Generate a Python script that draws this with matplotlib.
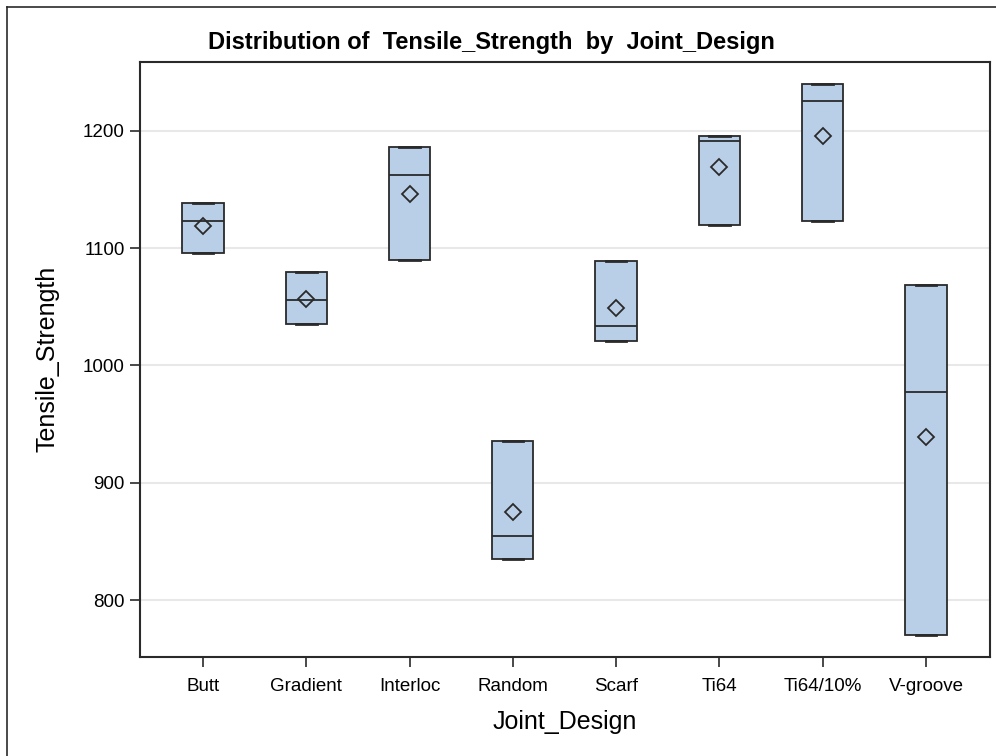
import matplotlib
matplotlib.use("Agg")
import matplotlib.pyplot as plt
from matplotlib.lines import Line2D

plt.rcParams['font.family'] = ['Liberation Sans', 'DejaVu Sans']

# 数据：每组的四分位数与均值
designs = ['Butt', 'Gradient', 'Interloc', 'Random', 'Scarf', 'Ti64', 'Ti64/10%', 'V-groove']
q1 = [1095.7, 1035.2, 1090.0, 834.8, 1020.6, 1119.6, 1123.5, 770.2]
med = [1123.5, 1055.9, 1162.5, 854.9, 1034.0, 1191.7, 1225.6, 977.8]
q3 = [1138.4, 1079.6, 1186.6, 935.2, 1088.9, 1196.0, 1240.0, 1068.7]
means = [1119.3, 1056.8, 1146.3, 875.0, 1048.9, 1169.0, 1195.7, 938.8]
yticks = [800, 900, 1000, 1100, 1200]

box_fill = '#b9cfe7'
edge = '#2a2a2a'

fig = plt.figure(figsize=(9.96, 7.56), dpi=100)
ax = fig.add_axes([140/996, 1 - 657/756, 850/996, 595/756])

# 须线与箱体边缘重合
stats = []
for i in range(len(designs)):
    stats.append({'label': designs[i], 'q1': q1[i], 'med': med[i], 'q3': q3[i],
                  'whislo': q1[i], 'whishi': q3[i], 'mean': means[i], 'fliers': []})

pos = list(range(len(designs)))
ax.bxp(stats, positions=pos, widths=0.4, patch_artist=True, showmeans=True,
       capwidths=0.2,
       boxprops=dict(facecolor=box_fill, edgecolor=edge, linewidth=1.3),
       medianprops=dict(color=edge, linewidth=1.3),
       whiskerprops=dict(color=edge, linewidth=1.3),
       capprops=dict(color=edge, linewidth=2.0),
       meanprops=dict(marker='D', markersize=8.5, markerfacecolor='none',
                      markeredgecolor=edge, markeredgewidth=1.3))

ax.set_xlim(-0.61, 7.62)
ax.set_ylim(751.4, 1258.8)
ax.set_yticks(yticks)
ax.set_xticks(pos)
ax.set_xticklabels(designs)
ax.yaxis.grid(True, color='#e8e8e8', linewidth=1.5)
ax.set_axisbelow(True)
ax.tick_params(axis='both', labelsize=13.5, length=7, width=1.2, color=edge, pad=4)
ax.tick_params(axis='x', pad=8)
for s in ax.spines.values():
    s.set_linewidth(1.5)
    s.set_color(edge)

fig.text(491/996, 1 - 43/756, 'Distribution of  Tensile_Strength  by  Joint_Design',
         ha='center', va='center', fontsize=17, fontweight='bold')
fig.text(565/996, 1 - 722/756, 'Joint_Design', ha='center', va='center', fontsize=18)
fig.text(48/996, 1 - 359/756, 'Tensile_Strength', ha='center', va='center',
         fontsize=18, rotation=90)

# 外框（图像被裁切，只见左边和上边）
fig.add_artist(Line2D([7/996, 7/996], [0, 1 - 7/756], color=edge, linewidth=1.2))
fig.add_artist(Line2D([7/996, 1], [1 - 7/756, 1 - 7/756], color=edge, linewidth=1.2))

fig.savefig('out.png', dpi=100)
